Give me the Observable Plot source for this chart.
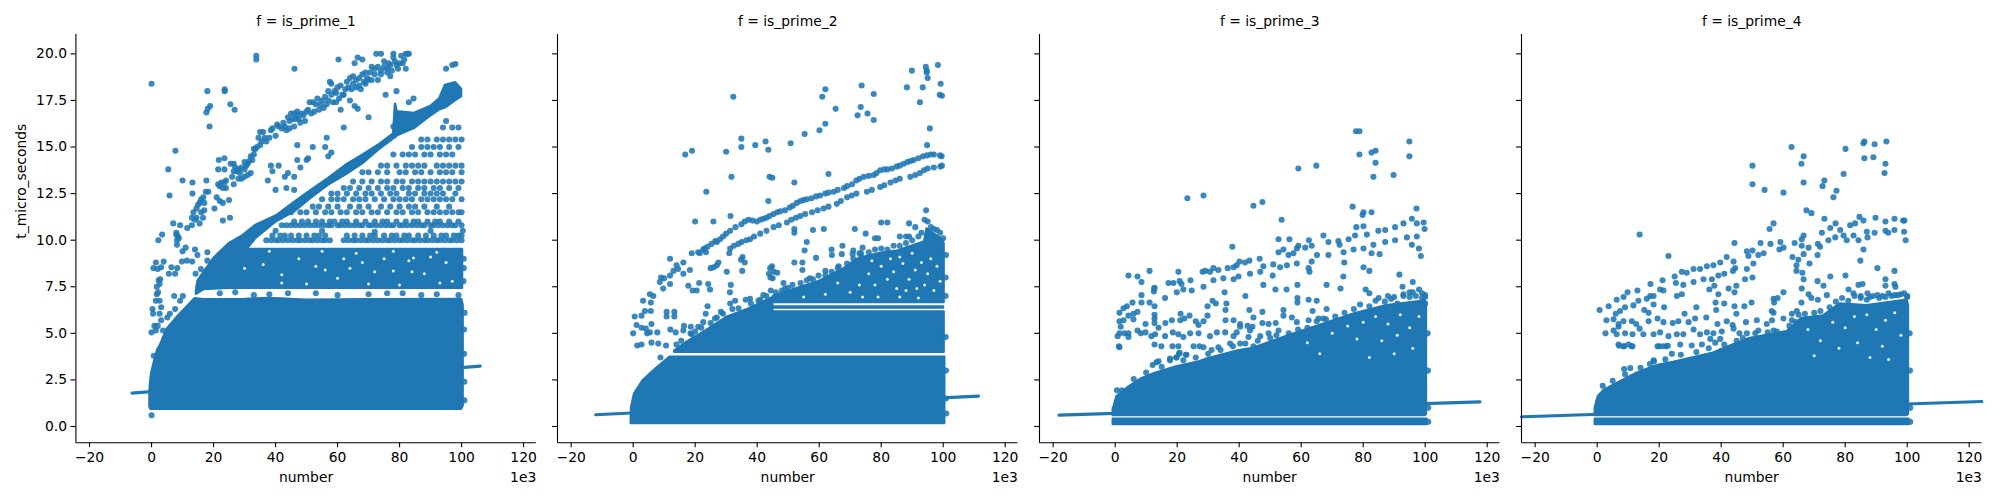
<!DOCTYPE html>
<html><head><meta charset="utf-8">
<script src="https://cdn.jsdelivr.net/npm/d3@7"></script>
<script src="https://cdn.jsdelivr.net/npm/@observablehq/plot@0.6"></script>
<style>html,body{margin:0;padding:0;background:#fff}#c{position:relative;width:2000px;height:500px;overflow:hidden}svg{position:absolute;top:0;background:transparent}</style>
</head><body><div id="c"></div>
<script>
const titles=["f = is_prime_1","f = is_prime_2","f = is_prime_3","f = is_prime_4"];
const xTicks=[-20,0,20,40,60,80,100,120];
const yTicks=[0,2.5,5,7.5,10,12.5,15,17.5,20];
// regression fits: [number, t]
const reg1=[[-6.3,1.79],[106,3.24]];
const reg2=[[-12.1,.63],[111.4,1.63]];
const reg3=[[-18.1,.61],[117.7,1.32]];
const reg4=[[-24.4,.52],[124.1,1.34]];
// dense regions: [number, low, high]
const p1Body=[[-.5,1.05,1.9],[-.2,.93,2.5],[0,.93,2.8],[1,.93,3.5],[2,.93,4.1],[3,.93,4.4],[5,.93,5.2],[8,.93,5.8],[12,.93,6.5],[14,.93,6.85],[17,.93,6.8],[30,.93,6.82],[38,.93,6.87],[50,.93,6.78],[70,.93,6.8],[100,.93,6.82],[100.5,1.1,6.5]];
const p1Upper=[[14.5,7.1,7.3],[15,7.15,7.8],[17,7.35,8.3],[20,7.38,8.9],[25,7.42,9.5],[100.3,7.42,9.5]];
const p1Band=[[17.3,7.6,8.3],[20,8.1,9],[25,8.7,9.8],[29.2,9.2,10.2],[33.7,10.1,10.8],[40.3,11,11.3],[45.9,11.5,12],[51.4,12.25,12.65],[57,12.95,13.3],[62.6,13.5,14],[68.1,14.1,14.55],[73.7,14.9,15.15],[78.1,15.45,15.7],[78.7,15.5,17.3],[79.2,15.6,16.9],[84.8,16,16.8],[90.3,16.7,17.2],[93,17,17.6],[94.8,17.1,18.3],[98.1,17.5,18.45],[100,17.7,18.1]];
const p2Body=[[-.6,.16,.4],[-.5,.16,1],[.5,.16,1.75],[3.2,.16,2.45],[7.5,.16,3.1],[11.9,.16,3.72],[100.5,.16,3.72]];
const p2Mid=[[13.4,3.98,4.05],[17.2,3.98,4.5],[23.7,3.98,5.15],[30.2,3.98,5.85],[36.6,3.98,6.25],[44.2,3.98,6.85],[45,3.98,6.9],[45.1,3.98,6.14],[100.3,3.98,6.14]];
const p2Strip=[[45.3,6.36,6.42],[100.1,6.36,6.42]];
const p2Upper=[[45.3,6.66,7],[52.8,6.66,7.4],[60.3,6.66,7.8],[67.9,6.66,8.45],[72.7,6.66,9],[75,6.66,9.1],[80,6.66,9.3],[85,6.66,9.4],[90.5,6.66,9.7],[94,6.66,9.9],[94.8,6.66,10.6],[96.5,6.66,10.4],[99.7,6.66,10.05],[100.3,6.66,9.8]];
const p3Strip=[[-.6,.1,.39],[100.6,.1,.39]];
const p3Body=[[-.6,.59,.95],[-.3,.59,1.05],[.6,.59,1.6],[4.6,.59,2.13],[8.7,.59,2.57],[12.7,.59,2.83],[19.8,.59,3.19],[27.4,.59,3.48],[29.8,.59,3.63],[40,.59,4.07],[44.6,.59,4.19],[55.4,.59,4.83],[66.1,.59,5.43],[76.9,.59,6.03],[87.6,.59,6.48],[100,.59,6.73],[100.4,.65,6.5]];
const p4Strip=[[-.6,.1,.39],[100.6,.1,.39]];
const p4Body=[[-.6,.59,1],[.4,.59,1.6],[2.4,.59,1.95],[7.5,.59,2.39],[12.5,.59,2.83],[19.6,.59,3.28],[24.6,.59,3.43],[37.5,.59,3.93],[39.7,.59,4.1],[49.4,.59,4.73],[61.2,.59,5.08],[66,.59,5.8],[73,.59,5.93],[78.4,.59,6.58],[87,.59,6.48],[99.9,.59,6.78],[100.4,.65,6.5]];
// rows of measured dots: t value, then numbers
const p1RowY=[10,10.25,10.8,11,11.5,11.8,12.2,12.5,12.8,13.15,13.65,14,14.6,15,15.4,16.05,16.4];
const p1RowX=[[37,38.5,40,41,42.5,44,45.5,47,48,49.5,51,52,53.5,55,56,57.5,62,63.5,65,66,67.5,69,70,71.5,73,74.5,76,77,78.5,80,81,82.5,84,85,86.5,88,89,90.5,92,93,94.5,96,97,98.5,100],[39,41.5,43,45,47.5,50,52.5,54,56,63,65.5,68,70.5,72,75,77.5,79,81.5,83,86,88.5,91,93.5,95,97.5,99,100],[42,43.5,45,46.5,48,49.5,51,52.5,54,55.5,57,58,60,61,62.5,64,65.5,67,68,70,71,72.5,74,75.5,77,78,80,81,82.5,84,85.5,87,88,90,91,92.5,94,95.5,97,98,100],[46,48.5,50.5,53,55,57.5,59,61.5,63,66,69,72,74.5,76,79,82,84.5,86,89,91.5,93,96,99],[45,48,50,53,56,58,61,63,66,68,71,73,76,79,81,84,86,89,91,93,95,97,99,100],[52,54,57,60,64,67,70,74,77,80,83,85,88,92,96],[55,58,60,62,65,67,69,72,75,78,80,82,84,87,89,91,93,95,97,100],[58,60,63,66,69,71,74,77,79,83,85,88,90,92,94,98],[62,64,67,70,73,76,78,81,83,86,88,91,93,96,99],[65,68,71,74,76,79,81,84,86,88,90,92,94,96,98,100],[68,70,73,76,80,82,85,87,90,93,95,97,100],[74,76,79,82,84,86,88,92,94,96,98,100],[78,81,83,85,88,90,93,95,97],[84,87,89,91,93,96,99],[87,89,92,94,96,98,100],[94,97,99],[95]];
// individual points: [number, t]
const p1Arc=[[40.5,16.2],[42.5,16.3],[43.5,15.9],[44.5,16.4],[45.5,16.5],[46.5,16.5],[47,16.7],[48.5,16.8],[49.5,16.4],[50.5,17],[51.5,16.8],[52.5,16.9],[53.5,17.6],[54.5,17.3],[55.5,17.1],[56.5,17.3],[57,17.5],[58,17.8],[59,18],[59.5,17.9],[60.5,17.6],[61.5,17.8],[62.5,18.1],[63.5,18.2],[64.5,18.1],[65,18.4],[66,18.6],[67,18.7],[67.5,18.1],[68.5,18.5],[69.5,18.7],[70.5,19],[71,18.6],[72,19.2],[73,18.6],[74,18.9],[75,19.3],[76,19],[76.5,19.5],[77.5,19.1],[78.5,19.6],[79.5,19.2],[81,19.5],[81.5,19.7],[28.5,13.6],[30,13.8],[32.5,14.3],[33,14.6],[35,15.1],[35.5,15.3],[36.5,15.5]];
const p1Dots=[[0,18.4],[33.8,19.9],[33.8,19.7],[46.1,19.2],[60.3,19.7],[18,18],[23.6,18.1],[23.6,18],[25.4,17.3],[26.8,17],[18.9,17.2],[18.1,17.05],[17.7,16.85],[18.7,16.1],[7.7,14.8],[5.4,13.8],[5.8,12.4],[10,13.2],[13.2,13.1],[13.2,12.5],[2.2,10],[3.4,10.3],[7,10.9],[9.2,10.8],[8,10.4],[8.5,10.2],[8.2,10],[8.8,10.1],[8,10.3],[8.2,9.75],[11.5,10.65],[13,10.8],[13,11.2],[13.5,11.5],[14,11.1],[14.5,11.7],[15,11.9],[15.5,12],[16,12.2],[16.7,12.3],[15.5,10.9],[14.5,11.2],[16,11.5],[17,12],[17.5,12.6],[17.7,13.2],[18.3,12.6],[17,11.6],[16.6,11.2],[20.3,11.7],[23,11.05],[25.3,11.2],[21,12.3],[22,12.1],[23,12],[21.5,13],[22.5,13.1],[23.5,13.1],[24,13.2],[24,12.8],[23,12.8],[22,12.9],[25,12.15],[21.5,13.8],[23.5,13.8],[21.7,14.3],[23.5,14.4],[25.5,14.1],[26.5,14.1],[26,13.4],[26.5,13.7],[27,13.9],[27.5,13.7],[28,13.8],[29,13.9],[30,14.2],[30.5,14],[31,14.1],[31.5,14.25],[32,14.5],[33,14.9],[34,15],[33.5,14.9],[31,13.5],[32,13.6],[29,13.3],[28,13.3],[30,13.4],[26.5,13],[34.5,15.5],[35,15.8],[36,15.8],[37,15.3],[38,15.5],[38.5,15.9],[39,16],[40,15.6],[41,16.1],[42,16],[43,16.1],[44,16.6],[45,16.8],[44.5,16],[46,16.8],[47,16.9],[46,16.1],[47.5,16.5],[48,16.3],[49,16.7],[50,16.9],[51,17.4],[52,17.4],[53,17.3],[54,17],[55,17.5],[56,17.7],[57,18],[57.5,18.5],[58,18.4],[58.5,17.4],[59.5,17.4],[60,18.2],[61,18.3],[62,17.8],[63,18.5],[64,18.7],[65,18.8],[66,18.2],[67,18.3],[68,18.9],[69,19],[70,18.6],[71,19.3],[72,18.9],[73,19.3],[74,19.1],[75,19.6],[76,19.2],[77,19.4],[78,19.8],[79,19.4],[80,19.5],[65.5,19.5],[68,19.7],[66.5,19.8],[72.5,20],[74,20],[78,20],[80.5,19.9],[82,20],[82.5,20],[83,20],[82,19.2],[77,18.8],[69,18.4],[64,17.5],[65.5,17.2],[66.5,17.05],[70,16.6],[61,17],[62,16.05],[75.5,17.8],[79,18],[84.5,17.6],[83,17.4],[78,16.1],[95,19.2],[97,19.4],[98,19.45],[41,14],[39,13.7],[38.5,14],[37.5,13.2],[48,13.9],[47,14.3],[47,15.1],[52,15],[56,15],[57,14.5],[56.5,15.5],[58,14.7],[50,14.3],[50.5,14.4],[46,13.4],[44,13.6],[43,13.4],[40,12.7],[43.5,12.8],[46,12.7],[0,5.05],[.9,5.4],[.3,6.3],[.5,6.05],[1.4,6.75],[1.7,7.1],[2.6,7.65],[2.3,7.85],[2.8,7.9],[1.7,7.5],[2.1,7.2],[2.6,6.75],[3.1,6.4],[2.6,6.05],[3.1,5.7],[2,5.4],[3.7,5.15],[1.4,5.15],[.6,8.5],[1.4,8.8],[2,8.45],[3.1,8.55],[3.9,8.85],[6.4,8.55],[5.6,8.2],[7.6,8.2],[8.3,8.5],[9.8,8.85],[11.4,8.9],[13.1,8.85],[14.2,8.2],[14.8,9.2],[18,9.35],[18,8.9],[15.9,8.45],[7.3,7],[10.1,7],[9.2,6.75],[7.6,6.3],[5.9,6.05],[5.1,5.85],[.7,3.8],[0,.6],[14,9.5],[11,9.6],[10,9.4],[22,7.15],[27,7.2],[33,7.05],[38,7.1],[44,7.15],[53,7.15],[60,7.05],[70,7.1],[76,7.15],[81,7.15],[87,7.05],[92,7.1],[99,7.05],[40,10.5],[55,10.5],[72,10.45],[90,10.5],[100.4,10.5],[100.8,5.2],[100.8,3.9],[100.9,2.4],[100.7,8.5],[100.7,9],[100.6,7.8],[100.9,1.4],[101,6.1]];
const p2Fringe=[[14,4.4],[15.5,4.6],[18.5,5],[20,5.1],[22,5.3],[25,5.55],[27,5.85],[29,6.05],[32,6.3],[34,6.35],[38,6.6],[41,6.8],[43,7],[46,7.2],[48,7.3],[50,7.45],[54,7.7],[56,7.85],[58,7.9],[62,8.1],[64,8.3],[66,8.5],[69,8.75],[71,9],[73,9.3],[74,9.6],[76,9.35],[78,9.5],[80,9.55],[82,9.5],[84,9.7],[86,9.7],[88,9.85],[90,10],[92,10.2],[93,10.4],[95,11],[96,10.7],[97,10.6],[98,10.55],[99,10.4],[100,10.1]];
const p2Dots=[[32.3,17.7],[61,17.7],[62,18.1],[65.3,17.05],[73.7,18.3],[77.6,17.85],[73.4,17.15],[72.4,16.7],[75.6,16.8],[77.6,16.45],[88.3,18.2],[89.9,19.1],[94.4,19.3],[94.7,19.1],[94.7,19],[95,18.7],[98.3,19.4],[99.2,18.4],[93.4,18.2],[92.5,17.4],[98.9,17.8],[99.6,17.75],[95.7,16],[62,16.25],[60.1,15.9],[55.3,15.7],[50.8,15.2],[42.7,15.3],[34.9,15.45],[34.9,15],[39.4,15.1],[43.6,14.85],[30,14.75],[19,14.8],[16.8,14.6],[31.7,13.4],[44,13.4],[44.9,13.35],[52,13.1],[63,13.55],[23.6,12.6],[43.6,12.1],[31.4,11.3],[20,11],[25.9,11],[21,9.35],[22.6,9.5],[25.3,9.8],[28,10.05],[31.3,10.5],[34.9,10.85],[37.2,11.1],[39.9,11],[42,11.15],[45.3,11.4],[49,11.6],[52.8,12],[56,12.2],[60.3,12.4],[64.7,12.6],[68,12.8],[70.6,13],[74.4,13.4],[77.6,13.5],[79.7,13.75],[83.5,13.85],[87.3,14.1],[90.5,14.3],[94.8,14.55],[94.8,15.1],[99,14.55],[23,9.55],[24,9.65],[26.5,9.95],[27,9.9],[29,10.2],[30,10.35],[33,10.7],[36,11],[38.5,11.05],[41,11.1],[43,11.2],[44,11.3],[46.5,11.5],[47.5,11.55],[50.5,11.75],[51.5,11.85],[54,12.1],[55,12.15],[57.5,12.25],[59,12.35],[62,12.5],[63,12.55],[66,12.7],[69,12.9],[72,13.2],[73,13.3],[76,13.45],[78.5,13.6],[81,13.8],[82,13.8],[85,13.95],[86,14],[88.5,14.2],[89.5,14.25],[92,14.4],[93.5,14.5],[96,14.6],[97,14.6],[99.5,14.5],[31.3,9.55],[33.9,9.8],[37.7,10.05],[41,10.35],[45.3,10.7],[49.6,10.95],[53.9,11.3],[57.7,11.5],[61.4,11.7],[65.7,11.95],[69,12.3],[75.4,12.6],[79.7,12.85],[84.6,13.2],[89.4,13.4],[93.8,13.75],[99.1,13.95],[32.5,9.7],[35,9.9],[36.5,10],[39,10.2],[43,10.5],[47,10.8],[51,11.1],[52.5,11.2],[55.5,11.4],[59.5,11.6],[63,11.8],[67,12.1],[70.5,12.4],[72,12.5],[77,12.7],[81,12.95],[83,13.1],[86,13.3],[91,13.5],[92.5,13.6],[95,13.85],[97,13.9],[99.6,14],[35.3,9.1],[31,9.3],[36,8.8],[52,10.4],[52,10.6],[58,10.55],[61.5,10.6],[71.5,10.6],[75,10.35],[78,10.1],[79,10.1],[82,10.95],[80,10.95],[89,10.9],[91,10.7],[94,11.1],[94.5,11.6],[56,9.9],[64,9.5],[67.5,9.7],[71,9.45],[73.5,9.3],[86,10.2],[88,10.2],[89,10.2],[11.9,9],[3.2,6.75],[5.4,7.1],[8.6,7.75],[11.9,8.1],[16.2,8.8],[14,8.65],[6.5,7],[9.7,7.4],[11.9,7.65],[16.2,8.2],[18.3,8.4],[.5,5.9],[1.1,5.45],[2.7,5.95],[3.8,6.2],[5.7,6.2],[5.7,6.65],[10.8,6.15],[13.3,6.15],[10.8,5.9],[13.3,5.9],[0,5],[2.7,5.3],[4.1,5.25],[4.5,5],[5.9,5.5],[5.4,5.05],[7.8,5.05],[1.3,4.35],[2.7,4.4],[5.9,4.5],[8.1,4.45],[10.6,4.35],[8.8,3.7],[12,5.2],[13.7,5.05],[16.4,5.4],[16.2,5.15],[18.6,5.35],[21,5.35],[18.9,4.95],[23.4,6.05],[24,6.45],[26.4,5.8],[22.6,5.6],[28.3,6.15],[31.3,6.6],[32.9,6.75],[36.3,6.8],[37.7,6.85],[40.4,6.75],[42,7.05],[44.4,7.3],[17.8,7.55],[19.2,7.3],[20.5,7.3],[21.3,7.7],[24.2,7.65],[24.8,7.35],[31.5,7.6],[31.2,7.2],[30.2,8.3],[35.2,8.35],[34.8,8.95],[18.9,9.3],[21.5,9.3],[23.5,9.35],[44.2,8.5],[43.8,8.2],[44.8,8.6],[45.4,8.3],[46.5,8.25],[44.3,8],[45,7.95],[48.5,7.7],[49,7.4],[51.4,7.6],[52,8.8],[54.6,8.8],[54.6,8.4],[55.3,9.45],[59,9.05],[57,7.95],[59.8,8.1],[62,8.35],[66.3,8.6],[64.1,9.2],[67.3,9.25],[70.8,9.25],[73.6,9.1],[25,8.5],[26,8.55],[27,8.65],[27.5,8.8],[9,8],[10,7.95],[13,8.35],[14.5,8.45],[100.8,4.8],[100.9,3],[100.9,1.5],[101,.7],[100.8,8],[100.8,7],[100.9,9.2]];
const p3Fringe=[[6,2.55],[10,2.9],[15,3.2],[22,3.55],[26,3.7],[30,3.9],[34,4.1],[38,4.3],[42,4.45],[46,4.6],[50,4.75],[52,4.9],[56,5],[59,5.2],[62,5.3],[65,5.65],[68,5.75],[71,5.9],[74,6.1],[77,6.3],[79,6.55],[82,6.45],[84,6.75],[87,6.7],[89,6.85],[91,6.6],[93,7],[95,6.95],[96,7.2],[98,7.35],[99,7.15],[100,6.95],[100,6.6]];
const p3Dots=[[77.7,15.85],[78.8,15.85],[94.9,15.3],[94.9,14.5],[78.8,14.6],[82.7,14.7],[84,14.8],[84,14.15],[83.3,13.4],[89.8,13.5],[59.1,13.85],[64.9,14],[23.3,12.25],[28.5,12.4],[44.6,11.85],[47.5,12.05],[53.7,11.1],[76.6,11.8],[97.2,11.7],[80.1,11.5],[79.8,11.35],[82.7,11.5],[77.8,10.7],[80.1,10.75],[4.3,8.1],[7.2,8.05],[8.5,7.75],[11.1,8.35],[12.6,7.4],[12.5,7.25],[12.7,7.45],[17.2,7.7],[18.8,7.7],[20.4,8.3],[20.8,7.8],[21.4,7.65],[24.3,7.85],[28.2,8.3],[29.1,8.35],[30.6,8.3],[31.7,8.5],[33.3,8.4],[36.3,8.5],[38.2,8.55],[39.2,8.65],[40.1,8.85],[41.9,8.8],[43.3,8.9],[46.6,9],[47.8,8.6],[51,8.7],[52.7,9.35],[54.3,9.5],[55.9,9.2],[57.5,9.3],[58.6,9.55],[59.1,9.7],[61.3,9.6],[63.4,9.7],[65.1,9.2],[67.2,10.25],[68.8,9.9],[72,9.95],[72.4,9.75],[75.3,10.05],[77.4,10.25],[81.2,10.3],[84.9,10.5],[87.1,10.55],[90.3,10.7],[93,10.9],[95.7,11.15],[97.3,10.9],[99.5,10.95],[16.1,6.9],[19.9,7.2],[22,7.35],[24.7,7.3],[28.5,7.5],[31.7,7.85],[34.9,7.95],[38.2,7.9],[39.8,8.05],[43.5,8.2],[46.8,8.3],[50.8,8.1],[53.2,8.55],[55.4,8.65],[58.6,8.75],[62.4,8.5],[62.7,8.3],[63.4,8.85],[68.8,9.2],[73.7,9.35],[76.9,9.5],[80.1,9.55],[83.3,9.75],[87.1,9.9],[90.3,10],[94.1,10.15],[97.3,10.2],[99.8,10.6],[37.8,9.65],[52.7,10.05],[56.2,10.05],[62.5,10],[73.9,8.8],[73.6,8.05],[80.1,8.55],[82,8.35],[82.7,9.3],[85.3,9.25],[91.7,8.15],[92.7,7.5],[96,7.75],[95.7,9.75],[98,9.55],[98.6,9.15],[68.2,7.6],[72.7,7.4],[80.8,7.35],[82,7.15],[47.8,7.6],[58.8,7.6],[51.7,7.35],[55.3,7.35],[35.3,7.2],[42,7],[58.8,6.9],[58.8,6.65],[62.4,6.8],[65,6.75],[68.2,6.3],[63.7,6.2],[54.3,6.25],[47.5,6.15],[43.3,6.25],[29.8,6.45],[31.4,6.75],[32.5,6.6],[35.9,6.6],[35.6,6.25],[1.4,6.1],[2.7,6.35],[3.8,6.45],[5.6,6.65],[8.5,7.05],[8.5,6.65],[11.1,6.65],[12.7,6.45],[7.2,6.15],[5.9,6.05],[4.3,5.95],[2.7,5.7],[1.4,5.65],[1.8,5.35],[5.9,5.75],[9.8,5.5],[12.7,6],[12.7,5.8],[12.7,5.55],[14,5.3],[16.2,5.55],[18.3,5.7],[21.1,6.05],[21,5.7],[24,5.95],[22.3,5.8],[26,5.65],[28.5,5.65],[29.8,5.95],[26.9,5.45],[.8,4.85],[1.4,5],[3,5],[4.3,5],[4.3,4.8],[7.2,5.15],[8.3,5],[9.8,5.05],[11.7,4.85],[12.9,4.95],[16.1,4.85],[18.6,5.05],[20.4,4.95],[22,4.8],[24.2,5],[26.9,5],[30.6,4.85],[32.8,5.05],[35.5,5.05],[38.2,4.85],[39.2,5.05],[40.3,5.35],[38.2,5.7],[35.6,5.7],[40.3,5.5],[42.7,5.4],[44.6,5.85],[44.3,5.35],[47.5,5.55],[49.5,5.5],[51.8,5.55],[54.3,5.95],[57,5.85],[58.6,5.6],[62.4,5.7],[65.6,5.8],[67.2,5.8],[46.8,4.85],[49.5,5],[52.7,5.15],[43.5,5.15],[43,4.8],[1.4,4.25],[12.7,4.4],[14.9,4.3],[18.5,4.3],[20.4,4.3],[25.3,4.3],[27.2,4.3],[28.5,4.25],[31.1,4.1],[33.3,4.25],[22.8,3.85],[20.8,3.95],[19.7,3.7],[17.7,3.65],[14,3.5],[37.1,4.45],[40.3,4.45],[44.6,4.3],[1.2,4.3],[.6,1.94],[2.2,1.94],[12.1,3.3],[13.3,3.45],[17.7,3.55],[20.6,3.9],[23,3.85],[19.8,3.7],[85,6.9],[88,7],[90,6.95],[93,7.1],[95,7.2],[97,7],[99,6.9],[100,7.05],[100.8,5],[100.9,3],[101,1],[101,.25]];
const p4Fringe=[[5,2.45],[9,2.8],[14,3.15],[17,3.35],[22,3.6],[27,3.85],[32,4],[36,4.2],[41,4.4],[45,4.6],[47,4.75],[51,5],[55,5.05],[58,5.1],[62,5.4],[64,5.6],[67,6.05],[70,6.1],[72,6.2],[75,6.4],[77,6.7],[79,6.9],[81,6.75],[83,7],[85,6.9],[87,6.8],[89,7],[91,6.9],[93,6.95],[95,7],[97,7.05],[99,7.15],[100,7]];
const p4Dots=[[13.7,10.3],[23,9.15],[62.7,15],[66.6,14.5],[65.9,14.1],[66.6,13.1],[50.1,14],[50.1,13],[54,12.7],[60.1,12.55],[80.1,14.9],[85.9,15.2],[86.2,15.3],[89.5,15.15],[93.3,15.3],[86.2,14.4],[89.1,14.45],[93,14.1],[92.7,13.6],[79.5,13.55],[73.3,13.2],[72.7,12.9],[77.2,12.65],[76.2,12.3],[67.5,11.6],[69.1,11.45],[73.3,11.15],[56.9,10.9],[55.6,10.6],[84.6,11.25],[85.9,11.05],[89.8,11.2],[93,11],[95.9,11.15],[99.1,11.05],[98.7,11.05],[76.9,10.9],[75.2,10.65],[78.4,10.55],[81.6,10.8],[83.2,10.9],[72.5,10.4],[74.6,10],[76.8,10.15],[79.5,10.25],[80.5,10],[82.7,10.25],[84.3,10],[87,10.45],[89.5,10.4],[93,10.5],[93.9,10.4],[95.9,10.55],[99,10.45],[99.5,10],[87.2,10.15],[85.9,9.5],[84.9,8.9],[90.4,8.5],[95.9,8.35],[93,7.9],[93,7.55],[95.9,7.65],[96.2,7.5],[44.3,9.85],[52.7,9.85],[55.9,9.8],[59.1,9.9],[58.8,9.5],[60.1,9.6],[63.7,9.85],[66,10.05],[66.6,10.25],[66,9.7],[68.2,9.6],[71.2,9.8],[71.9,9.65],[71.1,9.2],[63,9.1],[64.9,8.95],[66.6,9.25],[64.3,8.65],[68.5,8.75],[64.3,8.35],[66.2,8.25],[66.6,7.9],[48.3,9.4],[50.1,9.45],[48.8,9.15],[52,9.2],[53.7,9.3],[50.4,8.75],[48.3,8.45],[47.7,7.9],[50.1,8],[44,8.85],[44.5,8.5],[43.8,8.35],[41.8,9.1],[39.7,8.8],[37.5,8.65],[35.4,8.6],[33.2,8.45],[31.1,8.45],[28.9,8.25],[27.3,8.3],[25,8.05],[21.1,7.85],[17.2,7.65],[25.4,7.7],[27.8,7.6],[31.1,7.75],[34.3,7.9],[37,7.9],[39.1,8.1],[41,8.2],[37.8,7.55],[36.2,7.35],[39.1,7.1],[42.4,7.4],[44.3,7.2],[44.9,7.55],[27.3,7.1],[25.7,7],[21.4,7.3],[20.3,7.35],[17.1,7],[13,7.3],[9.8,7.2],[6.3,6.8],[8.5,6.95],[13.3,6.75],[16,6.85],[18.2,7],[3.7,6.45],[.8,6.25],[6,6.05],[7.4,6.2],[9,6.4],[11.7,6.5],[15.2,6.25],[16.6,6.1],[18.2,6.55],[21.6,6.4],[32,6.4],[28.2,6.05],[38.4,6.25],[41,6.6],[38.2,6.65],[44.3,6.45],[47.5,6.45],[49.8,6.65],[44.9,6.05],[60.1,7.2],[56.9,6.85],[58.2,6.9],[57.1,6.65],[66,7.4],[68.2,7.1],[71.2,6.8],[69.1,6.9],[71.1,7.8],[73,7.55],[75.2,8.05],[74.1,7.05],[65.9,6.65],[80.1,8.1],[84.3,7.6],[85.6,7.65],[81.1,7.35],[82.7,7.15],[87.2,7.15],[90.4,7.05],[56.3,6.2],[56.9,6.1],[62.8,6.05],[64.4,6.2],[65,6],[3,5.7],[5.3,5.75],[8.5,5.65],[11.2,5.65],[12.6,5.5],[6.9,5.5],[6.9,5.35],[16.6,5.65],[19.5,5.8],[21.4,5.6],[24.4,5.55],[26.2,5.65],[29.5,5.6],[31.6,5.8],[35.2,5.85],[38.8,5.5],[41.8,5.65],[43.7,5.45],[48,5.6],[51.5,5.7],[54.7,5.5],[56.4,5.7],[60.1,5.8],[62.8,5.7],[2.7,5],[5.3,5.15],[6.3,4.95],[9,5],[11.4,4.95],[13.7,5.25],[14.9,4.95],[18.2,4.95],[20.3,5.05],[23,4.85],[25.7,4.95],[27.8,4.95],[31.1,5.2],[33.2,4.95],[35.4,5.05],[37.5,5],[40.2,5.1],[45.9,5],[48.3,5],[44,5.25],[52,5.15],[56.9,5.15],[36.5,4.7],[38.1,4.5],[39.7,4.7],[6.9,4.4],[8.5,4.3],[10.1,4.4],[11.4,4.3],[19.5,4.3],[22.2,4.3],[26.8,4.4],[30.5,4.35],[33.8,4.4],[24.1,3.9],[18.2,3.55],[7.1,4.33],[8.7,4.31],[11.1,4.31],[20,4.31],[21.2,4.31],[22.8,4.33],[18.3,3.49],[8.7,3.08],[10.7,3.13],[1.8,2.18],[85,7],[88,6.95],[92,7],[94,7.15],[96,7.05],[98,7.1],[100,6.95],[100.8,5],[100.9,3],[101,1],[101,.25]];
// small holes left in the dense regions
const p1Holes=[[42,8.15],[47.5,9],[62,9],[75,9],[84.5,9.05],[50,7.65],[42,7.7],[72,8.3],[78,8.35],[84,8.3],[88,8.2],[70,7.65],[80,7.6],[93,7.7],[56,8.4],[64,8.5],[30,8.5],[36,8.7],[95,8.8],[90,9.1],[38,9.4],[55,9.4],[66,9.3],[78,9.4],[92,9.35],[60,7.95],[53,8.6],[97,7.8],[83,8.9],[68,8.8]];
const p2Holes=[[76,8.2],[78,7.6],[80,8.6],[82,7.9],[84,8.3],[85,7.4],[87,8.75],[88,7.3],[89,7.9],[91,8.4],[91.5,7.4],[93,8.8],[94,7.6],[95,8.2],[96,9],[97,7.3],[98,8.6],[99,7.8],[73,7.6],[74,6.95],[79,6.95],[86,6.95],[92,6.9],[83,9],[90,9.3],[86,9.1],[77,8.9],[70,7.2],[66,7.7],[62,7.1],[55,6.95]];
const p3Holes=[[62,4.5],[70,5],[75,5.4],[80,5.6],[84,5.9],[88,5.5],[92,6],[95,5.3],[98,5.9],[78,4.7],[86,4.6],[91,4.9],[96,4.2],[82,3.7],[90,3.9],[66,3.9]];
const p4Holes=[[68,5.2],[72,4.6],[76,5.6],[80,5.3],[83,5.9],[87,6],[90,5.2],[93,5.7],[96,6.1],[84,4.5],[78,4.2],[92,4.3],[98,4.9],[88,3.7],[70,3.8],[94,3.6]];

const panels=[
 {title:titles[0],reg:reg1,bands:[p1Body,p1Upper,p1Band],dots:p1Dots.concat(p1Arc,p1RowY.flatMap((y,i)=>p1RowX[i].map(x=>[x,y]))),holes:p1Holes,left:75.4},
 {title:titles[1],reg:reg2,bands:[p2Body,p2Mid,p2Strip,p2Upper],dots:p2Dots.concat(p2Fringe),holes:p2Holes,left:557.3},
 {title:titles[2],reg:reg3,bands:[p3Strip,p3Body],dots:p3Dots.concat(p3Fringe),holes:p3Holes,left:1039.3},
 {title:titles[3],reg:reg4,bands:[p4Strip,p4Body],dots:p4Dots.concat(p4Fringe),holes:p4Holes,left:1521.2}];
const blue="#1f77b4",XD=[-24.4,124.1],YD=[-.875,21.04],fs=13.9;
panels.forEach((p,i)=>{
 const ml=i===0?75.4:22;
 const fmtX=d=>d<0?"\u2212"+(-d):String(d);
 const marks=[
  Plot.line(p.reg,{x:d=>d[0],y:d=>d[1],stroke:blue,strokeWidth:3.1}),
  ...p.bands.map(b=>Plot.areaY(b,{x:d=>d[0],y1:d=>d[1],y2:d=>d[2],fill:blue,stroke:blue,strokeWidth:2.5,strokeLinejoin:"round"})),
  Plot.dot(p.holes,{x:d=>d[0],y:d=>d[1],r:1.5,fill:"white",fillOpacity:.9}),
  Plot.dot(p.dots,{x:d=>d[0],y:d=>d[1],r:3.05,fill:blue,fillOpacity:.88}),
  Plot.ruleX([XD[0]],{stroke:"black",strokeWidth:1.1}),
  Plot.ruleY([YD[0]],{stroke:"black",strokeWidth:1.1}),
  Plot.axisX({ticks:xTicks,tickFormat:fmtX,label:null,tickSize:4.9,tickPadding:4,fontSize:fs,stroke:"black",strokeWidth:1.1,fill:"black"}),
  Plot.axisY({ticks:yTicks,tickFormat:i===0?(d=>d.toFixed(1)):(()=>""),label:null,tickSize:4.9,tickPadding:4,fontSize:fs,stroke:"black",strokeWidth:1.1,fill:"black"}),
  Plot.text([p.title],{frameAnchor:"top",lineAnchor:"middle",dy:-13,fontSize:fs,fill:"black"}),
  Plot.text(["number"],{frameAnchor:"bottom",lineAnchor:"middle",dy:35,fontSize:fs,fill:"black"}),
  Plot.text(["1e3"],{frameAnchor:"bottom-right",textAnchor:"end",lineAnchor:"middle",dy:35,fontSize:fs,fill:"black"})
 ];
 if(i===0)marks.push(Plot.text(["t_micro_seconds"],{frameAnchor:"left",rotate:-90,dx:-54,fontSize:fs,fill:"black"}));
 const svg=Plot.plot({width:ml+460.4,height:500,marginLeft:ml,marginRight:0,marginTop:34,marginBottom:57.7,
  style:{fontFamily:"'DejaVu Sans'",background:"transparent",overflow:"visible"},
  x:{domain:XD},y:{domain:YD},marks});
 svg.style.left=(p.left-ml)+"px";
 document.getElementById("c").appendChild(svg);
});
</script></body></html>
